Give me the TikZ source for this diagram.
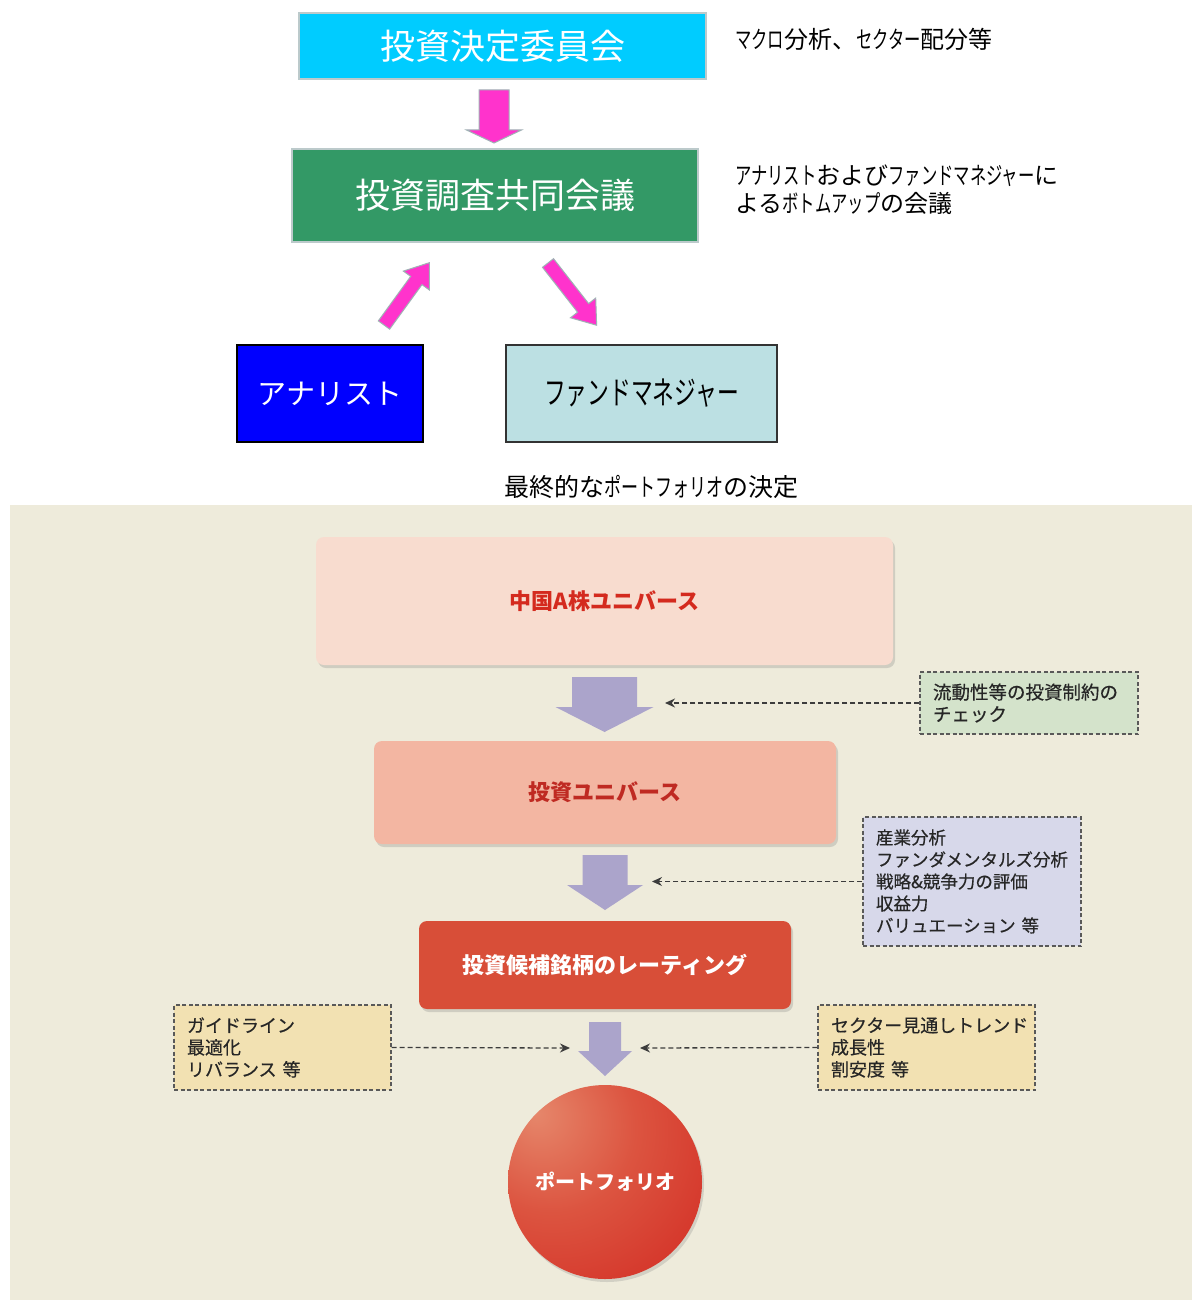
\documentclass[tikz,border=0pt]{standalone}
\usepackage{fontspec}
\setmainfont{Noto Sans CJK JP}
\newfontfamily\nk[FakeStretch=0.68]{Noto Sans CJK JP}
\newfontfamily\jpmed[FakeBold=0.5]{Noto Sans CJK JP}
\usetikzlibrary{shadows,arrows.meta}
\definecolor{cyanbox}{HTML}{00CCFF}
\definecolor{greenbox}{HTML}{339966}
\definecolor{bluebox}{HTML}{0000FF}
\definecolor{fmbox}{HTML}{BCE0E3}
\definecolor{pinkarr}{HTML}{FF33CC}
\definecolor{pinkedge}{HTML}{9FB3B5}
\definecolor{panel}{HTML}{EEEBDB}
\definecolor{chinabox}{HTML}{F8DCCF}
\definecolor{univbox}{HTML}{F3B6A2}
\definecolor{ratebox}{HTML}{D84E38}
\definecolor{redtext}{HTML}{D42A1E}
\definecolor{darkred}{HTML}{BF2A22}
\definecolor{purplearr}{HTML}{ABA4CB}
\definecolor{chkbox}{HTML}{D4E3CB}
\definecolor{anabox}{HTML}{D7D8EA}
\definecolor{tanbox}{HTML}{F2E1B2}
\definecolor{dashcol}{HTML}{3C3C3C}
\definecolor{ballA}{HTML}{E6876B}
\definecolor{ballB}{HTML}{DC5440}
\definecolor{ballC}{HTML}{D22A22}
\definecolor{ballD}{HTML}{C41218}
\pgfdeclareradialshading{portball}{\pgfpoint{-18bp}{18bp}}{%
  color(0bp)=(ballA); color(22bp)=(ballB); color(50bp)=(ballC); color(72bp)=(ballD); color(100bp)=(ballD)}
\newcommand{\blkarrow}[8]{%
  \begin{scope}[shift={(#2,#3)},rotate=#4]
    \path[#1] (0,#6) -- ({#5-#8},#6) -- ({#5-#8},#7) -- (#5,0) -- ({#5-#8},-#7) -- ({#5-#8},-#6) -- (0,-#6) -- cycle;
  \end{scope}}
\tikzset{
  topbox/.style={draw, line width=1.2pt, inner sep=0pt, text=white, font=\fontsize{35}{38}\selectfont},
  sidetext/.style={anchor=west, inner sep=0pt, align=left, font=\fontsize{24}{28}\selectfont},
  pinkstyle/.style={fill=pinkarr, draw=pinkedge, line width=1pt},
  purplestyle/.style={fill=purplearr},
  roundbox/.style={rounded corners=8pt, inner sep=0pt, font=\bfseries\fontsize{22}{24}\selectfont,
    drop shadow={opacity=0.28, shadow xshift=2pt, shadow yshift=-3pt}},
  dbox/.style={draw=dashcol!85, line width=1.3pt, dash pattern=on 4pt off 2.5pt, inner xsep=13pt, inner ysep=0pt,
    align=left, text=black!85, font=\jpmed\fontsize{18}{22}\selectfont},
  darr/.style={draw=dashcol, line width=1.3pt, dash pattern=on 5pt off 3pt, -{Stealth[length=10pt,width=9pt]}},
}
\begin{document}
\begin{tikzpicture}[x=1pt,y=-1pt]
\useasboundingbox (0,0) rectangle (1192,1300);
\fill[white] (0,0) rectangle (1192,1300);

% ---------- upper part ----------
\node[topbox, fill=cyanbox, draw=pinkedge!70, minimum width=407pt, minimum height=66pt] (idc) at (502.5,46) {投資決定委員会};
\node[sidetext] (idcnote) at (735,39) {{\nk マクロ}分析、{\nk セクター}配分等};

\blkarrow{pinkstyle}{494}{90}{-90}{53}{15}{27.5}{13}

\node[topbox, fill=greenbox, draw=pinkedge!70, minimum width=406pt, minimum height=93pt] (jrc) at (495,195.5) {投資調査共同会議};
\node[sidetext] (jrcnote) at (735,190) {{\nk アナリスト}および{\nk ファンドマネジャー}に\\よる{\nk ボトムアップ}の会議};

\blkarrow{pinkstyle}{384}{325}{54}{77}{7}{16}{22}
\blkarrow{pinkstyle}{548}{263}{-52}{79}{7}{16}{22}

\node[draw=black, line width=1.5pt, fill=bluebox, inner sep=0pt, minimum width=186pt, minimum height=97pt,
  text=white, font=\fontsize{29}{32}\selectfont] (ana) at (330,393.5) {アナリスト};
\node[draw=black!80, line width=1.5pt, fill=fmbox, inner sep=0pt, minimum width=271pt, minimum height=97pt,
  text=black, font=\nk\fontsize{32}{34}\selectfont] (fm) at (641.5,393.5) {ファンドマネジャー};

\node[inner sep=0pt, font=\fontsize{25}{28}\selectfont] (final) at (651,487) {最終的な{\nk ポートフォリオ}の決定};

% ---------- lower panel ----------
\fill[panel] (10,505) rectangle (1192,1300);

\node[roundbox, fill=chinabox, text=redtext, minimum width=577pt, minimum height=128pt] (china) at (604.5,601) {中国A株ユニバース};
\blkarrow{purplestyle}{604.5}{677}{-90}{55}{32.5}{49}{25}
\coordinate (t1) at (665,703);
\node[dbox, fill=chkbox, minimum width=218pt, minimum height=62pt, text width=192pt, font=\jpmed\fontsize{18.5}{22}\selectfont] (chk) at (1029,703) {流動性等の投資制約の\\チェック};
\draw[darr] (chk.west) -- (t1);

\node[roundbox, fill=univbox, text=darkred, minimum width=462pt, minimum height=103pt] (univ) at (605,792.5) {投資ユニバース};
\blkarrow{purplestyle}{605}{855}{-90}{55}{22.5}{38}{25}
\coordinate (t2) at (652,881.5);
\node[dbox, fill=anabox, minimum width=218pt, minimum height=129pt, text width=192pt, font=\jpmed\fontsize{17.5}{22}\selectfont] (anal) at (972,881.5) {産業分析\\ファンダメンタルズ分析\\戦略\&競争力の評価\\収益力\\バリュエーション 等};
\draw[darr] (anal.west) -- (t2);

\node[roundbox, fill=ratebox, text=white, minimum width=372pt, minimum height=88pt] (rate) at (605,965) {投資候補銘柄のレーティング};
\blkarrow{purplestyle}{605}{1022}{-90}{54}{16}{27}{25}
\coordinate (t3) at (570,1048);
\coordinate (t4) at (640,1048);
\node[dbox, fill=tanbox, minimum width=217pt, minimum height=85pt, text width=191pt] (guide) at (282.5,1047.5) {ガイドライン\\最適化\\リバランス 等};
\node[dbox, fill=tanbox, minimum width=217pt, minimum height=85pt, text width=191pt] (sector) at (926.5,1047.5) {セクター見通しトレンド\\成長性\\割安度 等};
\draw[darr] (guide.east) -- (t3);
\draw[darr] (sector.west) -- (t4);

\node[circle, minimum size=194pt, inner sep=0pt, shading=portball, text=white,
  font=\bfseries\fontsize{20}{22}\selectfont,
  drop shadow={opacity=0.25, shadow xshift=2pt, shadow yshift=-3pt}] (port) at (605,1182) {ポートフォリオ};
\end{tikzpicture}
\end{document}
